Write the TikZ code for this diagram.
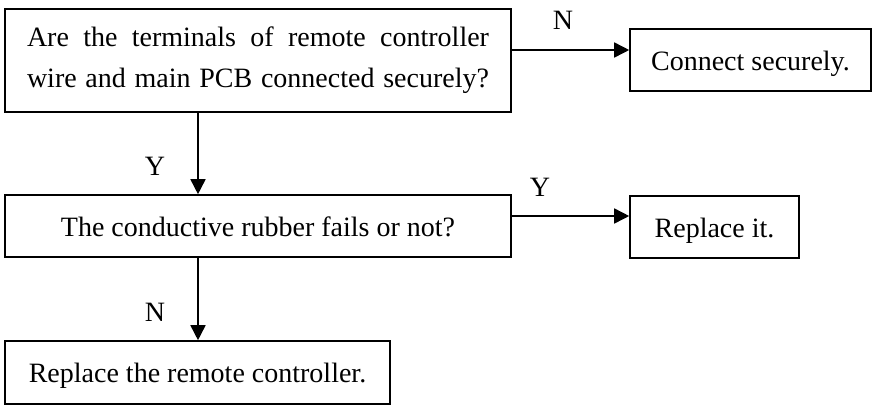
\documentclass[tikz,border=0pt]{standalone}
\usepackage{fontspec}
\setmainfont{Liberation Serif}
\usetikzlibrary{arrows.meta}
\begin{document}
\begin{tikzpicture}[x=1pt,y=-1pt,
  box/.style={draw,line width=1.6pt,rectangle,inner sep=0pt,font=\fontsize{28}{40}\selectfont},
  one/.style={text height=20.5pt,text depth=0pt},
  arr/.style={line width=1.6pt,-{Triangle[length=15pt,width=15pt]}},
  lbl/.style={font=\fontsize{28}{32}\selectfont,inner sep=0pt}]
\useasboundingbox (0,0) rectangle (874,405);
\node[box,minimum width=506pt,minimum height=103pt] (b1) at (258,60.5)
  {\raisebox{-5pt}{\parbox{462pt}{\makebox[462pt][s]{Are the terminals of remote controller}\\[1pt]\makebox[462pt][s]{wire and main PCB connected securely?}}}};
\node[box,one,minimum width=241pt,minimum height=62pt] (c1) at (750.5,60) {Connect securely.};
\node[box,one,minimum width=506pt,minimum height=62pt] (b2) at (258,226) {The conductive rubber fails or not?};
\node[box,one,minimum width=169pt,minimum height=62pt] (r1) at (714.5,227) {Replace it.};
\node[box,one,minimum width=385pt,minimum height=63pt] (b3) at (197.5,372.5) {Replace the remote controller.};
\draw[arr] ([yshift=10.5pt]b1.east) -- ([yshift=10.5pt]b1.east -| c1.west);
\draw[arr] ([yshift=10pt]b2.east) -- ([yshift=10pt]b2.east -| r1.west);
\draw[arr] ([xshift=-60pt]b1.south) -- ([xshift=-60pt]b1.south |- b2.north);
\draw[arr] ([xshift=-60pt]b2.south) -- ([xshift=-60pt]b2.south |- b3.north);
\node[lbl] (n1) at (563,20) {N};
\node[lbl] (y1) at (540,187) {Y};
\node[lbl] (y2) at (155,166) {Y};
\node[lbl] (n2) at (155,312) {N};
\end{tikzpicture}
\end{document}
